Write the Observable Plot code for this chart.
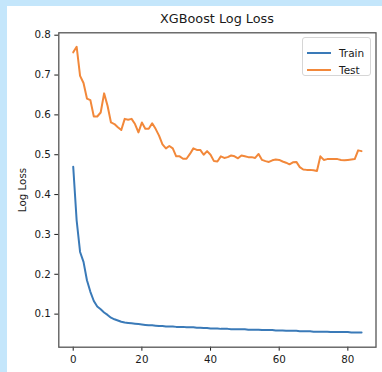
<!DOCTYPE html>
<html>
<head>
<meta charset="utf-8">
<script src="https://cdn.jsdelivr.net/npm/d3@7"></script>
<script src="https://cdn.jsdelivr.net/npm/@observablehq/plot@0.6"></script>
<style>
  html, body { margin: 0; padding: 0; background: #c4e6fb; width: 382px; height: 372px; overflow: hidden; }
  #card { position: absolute; left: 7px; top: 6px; width: 375px; height: 366px; background: #fff; font-family: "DejaVu Sans", sans-serif; }
  #title { position: absolute; left: 51px; width: 318px; top: 5px; text-align: center; font-size: 12.8px; color: #1a1a1a; line-height: 16px; }
  #chart svg { position: absolute; left: 0; top: 0; }
  #legend { position: absolute; left: 295px; top: 31px; width: 67px; height: 37px; border: 1px solid #d6d6d6; border-radius: 3px; background: rgba(255,255,255,0.8); font-size: 10.5px; color: #1a1a1a; }
  .row { position: absolute; left: 0; height: 14px; line-height: 14px; }
  .sw { position: absolute; left: 4px; top: 6px; width: 24px; height: 2px; }
  .lab { position: absolute; left: 36px; top: 0; white-space: nowrap; }
</style>
</head>
<body>
<script>
const title = "XGBoost Log Loss";
const yLabel = "Log Loss";
const seriesNames = ["Train", "Test"];
const seriesColors = ["#3a7ab8", "#f2883a"];
const xTicks = [0, 20, 40, 60, 80];
const yTicks = [0.1, 0.2, 0.3, 0.4, 0.5, 0.6, 0.7, 0.8];

const trainLoss = [
  0.470, 0.335, 0.256, 0.231, 0.185, 0.156, 0.133, 0.119, 0.112, 0.104,
  0.098, 0.091, 0.087, 0.084, 0.081, 0.079, 0.078, 0.077, 0.076, 0.075,
  0.074, 0.073, 0.072, 0.072, 0.071, 0.070, 0.070, 0.069, 0.069, 0.069,
  0.068, 0.068, 0.068, 0.067, 0.067, 0.067, 0.066, 0.066, 0.065, 0.065,
  0.064, 0.064, 0.064, 0.063, 0.063, 0.063, 0.062, 0.062, 0.062, 0.062,
  0.062, 0.061, 0.061, 0.061, 0.061, 0.060, 0.060, 0.060, 0.060, 0.059,
  0.059, 0.059, 0.058, 0.058, 0.058, 0.058, 0.057, 0.057, 0.057, 0.057,
  0.056, 0.056, 0.056, 0.056, 0.056, 0.055, 0.055, 0.055, 0.055, 0.055,
  0.055, 0.054, 0.054, 0.054, 0.054
];
const testLoss = [
  0.757, 0.771, 0.698, 0.680, 0.641, 0.637, 0.596, 0.596, 0.606, 0.654,
  0.623, 0.581, 0.577, 0.569, 0.562, 0.590, 0.588, 0.590, 0.577, 0.556,
  0.581, 0.565, 0.565, 0.579, 0.565, 0.548, 0.526, 0.516, 0.522, 0.516,
  0.496, 0.496, 0.490, 0.490, 0.502, 0.516, 0.512, 0.512, 0.500, 0.509,
  0.500, 0.484, 0.483, 0.496, 0.492, 0.494, 0.498, 0.496, 0.491, 0.498,
  0.496, 0.494, 0.494, 0.492, 0.502, 0.487, 0.484, 0.482, 0.486, 0.488,
  0.487, 0.483, 0.480, 0.476, 0.481, 0.482, 0.469, 0.463, 0.462, 0.462,
  0.461, 0.459, 0.496, 0.487, 0.489, 0.489, 0.489, 0.489, 0.487, 0.486,
  0.487, 0.488, 0.489, 0.511, 0.509
];

const rows = [];
[trainLoss, testLoss].forEach((arr, s) => arr.forEach((v, i) => rows.push({iter: i, loss: v, series: seriesNames[s]})));

const plot = Plot.plot({
  width: 375,
  height: 366,
  marginLeft: 51.3,
  marginRight: 6.5,
  marginTop: 26.3,
  marginBottom: 25.3,
  style: {fontFamily: "DejaVu Sans, sans-serif", fontSize: "10.3px", color: "#1a1a1a", background: "transparent"},
  x: {domain: [-4.2, 88.2], ticks: xTicks, tickSize: 4, tickPadding: 4, label: null, tickFormat: d3.format("d")},
  y: {domain: [0.017, 0.806], ticks: yTicks, tickSize: 4, tickPadding: 4, tickFormat: d3.format(".1f"),
      label: yLabel, labelAnchor: "center", labelArrow: "none", labelOffset: 40},
  color: {domain: seriesNames, range: seriesColors},
  marks: [
    Plot.line(rows, {x: "iter", y: "loss", stroke: "series", strokeWidth: 2}),
    Plot.frame({stroke: "#555", strokeWidth: 1.3})
  ]
});

const card = document.createElement("div");
card.id = "card";
document.body.appendChild(card);
const t = document.createElement("div");
t.id = "title";
t.textContent = title;
const c = document.createElement("div");
c.id = "chart";
c.appendChild(plot);
card.appendChild(c);
card.appendChild(t);
const lg = document.createElement("div");
lg.id = "legend";
seriesNames.forEach((n, i) => {
  const r = document.createElement("div");
  r.className = "row";
  r.style.top = (i === 0 ? 8 : 25) + "px";
  r.style.width = "100%";
  const sw = document.createElement("div");
  sw.className = "sw";
  sw.style.background = seriesColors[i];
  const lb = document.createElement("span");
  lb.className = "lab";
  lb.textContent = n;
  r.appendChild(sw); r.appendChild(lb);
  lg.appendChild(r);
});
card.appendChild(lg);
</script>
</body>
</html>
